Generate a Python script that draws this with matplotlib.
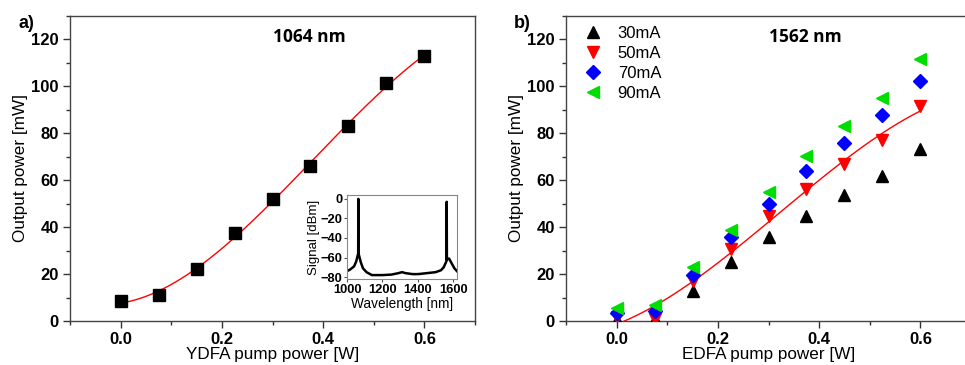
import numpy as np
import matplotlib
matplotlib.use("Agg")
import matplotlib.pyplot as plt
from matplotlib.ticker import MultipleLocator

plt.rcParams['font.family'] = ['Liberation Sans', 'DejaVu Sans']

# ---- data ----
pump = [0.0, 0.075, 0.15, 0.225, 0.3, 0.375, 0.45, 0.525, 0.6]
out_1064 = [8.5, 11.0, 22.0, 37.5, 52.0, 66.0, 83.0, 101.5, 113.0]

out_30mA = [0.5, 1.0, 12.8, 25.0, 35.6, 44.6, 53.5, 61.6, 73.2]
out_50mA = [1.5, 1.0, 17.0, 30.6, 44.6, 56.4, 66.9, 77.3, 91.5]
out_70mA = [3.3, 4.4, 19.5, 35.7, 50.0, 64.0, 76.0, 88.0, 102.5]
out_90mA = [5.4, 6.8, 23.2, 39.0, 55.0, 70.5, 83.0, 95.0, 111.7]

spec_wl = [1000, 1020, 1040, 1052, 1060, 1063, 1064, 1065, 1068, 1078, 1090, 1110, 1140,
           1170, 1200, 1250, 1290, 1310, 1330, 1370, 1400, 1450, 1500, 1530, 1545,
           1555, 1560, 1561, 1562, 1563, 1565, 1575, 1590, 1605, 1620]
spec_sig = [-74, -72, -69, -64, -58, -56, 0, -56, -58, -65, -71, -75, -78,
            -78, -78, -77.5, -76, -75, -76, -77, -77, -76, -75, -73, -70,
            -66, -64, -62, -3, -62, -62, -61, -66, -71, -74]

legend_labels = ['30mA', '50mA', '70mA', '90mA']

W, H = 965, 365
fig = plt.figure(figsize=(W / 100, H / 100), dpi=100)

def setup(ax, xlabel):
    ax.set_xlim(-0.1, 0.7)
    ax.set_ylim(0, 130)
    ax.xaxis.set_major_locator(MultipleLocator(0.2))
    ax.xaxis.set_minor_locator(MultipleLocator(0.1))
    ax.yaxis.set_major_locator(MultipleLocator(20))
    ax.yaxis.set_minor_locator(MultipleLocator(10))
    ax.set_xticks([0.0, 0.2, 0.4, 0.6])
    ax.set_xticklabels(['0.0', '0.2', '0.4', '0.6'])
    ax.tick_params(which='both', direction='out', top=False, right=False, color='#333333')
    ax.tick_params(which='major', length=5, width=1, labelsize=12, pad=3)
    ax.tick_params(which='minor', length=3, width=1)
    for lbl in ax.get_xticklabels() + ax.get_yticklabels():
        lbl.set_fontweight('bold')
    for s in ax.spines.values():
        s.set_color('#444444')
        s.set_linewidth(1.0)
    ax.set_xlabel(xlabel, fontsize=12.3, labelpad=0)
    ax.set_ylabel('Output power [mW]', fontsize=12.3, labelpad=2)

# ---- panel a ----
axa = fig.add_axes([70 / W, 44 / H, 405 / W, 305 / H])
setup(axa, 'YDFA pump power [W]')
ca = np.polyfit(pump, out_1064, 3)
xf = np.linspace(pump[0], pump[-1], 200)
axa.plot(xf, np.polyval(ca, xf), color='red', lw=1.0, zorder=2)
axa.plot(pump, out_1064, 's', color='black', ms=8.5, zorder=3)
axa.text(0.372, 121, '1064 nm', ha='center', va='center', fontsize=12.5,
         fontweight='bold', family=['Open Sans', 'DejaVu Sans'])
fig.text(26 / W, 1 - 23 / H, 'a)', ha='center', va='center', fontsize=13, fontweight='bold')

# inset
axi = fig.add_axes([347 / W, 1 - 279 / H, 110 / W, 84 / H])
axi.plot(spec_wl, spec_sig, color='black', lw=1.8)
axi.set_xlim(1000, 1620)
axi.set_ylim(-82, 4)
axi.set_xticks([1000, 1200, 1400, 1600])
axi.set_yticks([0, -20, -40, -60, -80])
axi.tick_params(direction='out', length=2.5, labelsize=9.3, pad=1, color='#555555')
for lbl in axi.get_xticklabels() + axi.get_yticklabels():
    lbl.set_fontweight('bold')
for s in axi.spines.values():
    s.set_color('#888888')
axi.set_xlabel('Wavelength [nm]', fontsize=9.8, labelpad=0.5)
axi.set_ylabel('Signal [dBm]', fontsize=9.5, labelpad=0)

# ---- panel b ----
axb = fig.add_axes([566 / W, 44 / H, 405 / W, 305 / H])
setup(axb, 'EDFA pump power [W]')
cb = np.polyfit(pump, out_50mA, 3)
axb.plot(xf, np.polyval(cb, xf), color='red', lw=1.0, zorder=2)
axb.plot(pump, out_30mA, '^', color='black', ms=9, label=legend_labels[0], zorder=3)
axb.plot(pump, out_50mA, 'v', color='red', ms=9, label=legend_labels[1], zorder=3)
axb.plot(pump, out_70mA, 'D', color='blue', ms=7.5, label=legend_labels[2], zorder=4)
axb.plot(pump, out_90mA, '<', color='#00dd00', ms=9, label=legend_labels[3], zorder=5)
axb.legend(loc='upper left', frameon=False, fontsize=12, handletextpad=0.5,
           labelspacing=0.3, borderaxespad=0.2, bbox_to_anchor=(0.0, 1.0))
axb.text(0.372, 121, '1562 nm', ha='center', va='center', fontsize=12.5,
         fontweight='bold', family=['Open Sans', 'DejaVu Sans'])
fig.text(522 / W, 1 - 23 / H, 'b)', ha='center', va='center', fontsize=13, fontweight='bold')

fig.savefig('out.png', dpi=100)
